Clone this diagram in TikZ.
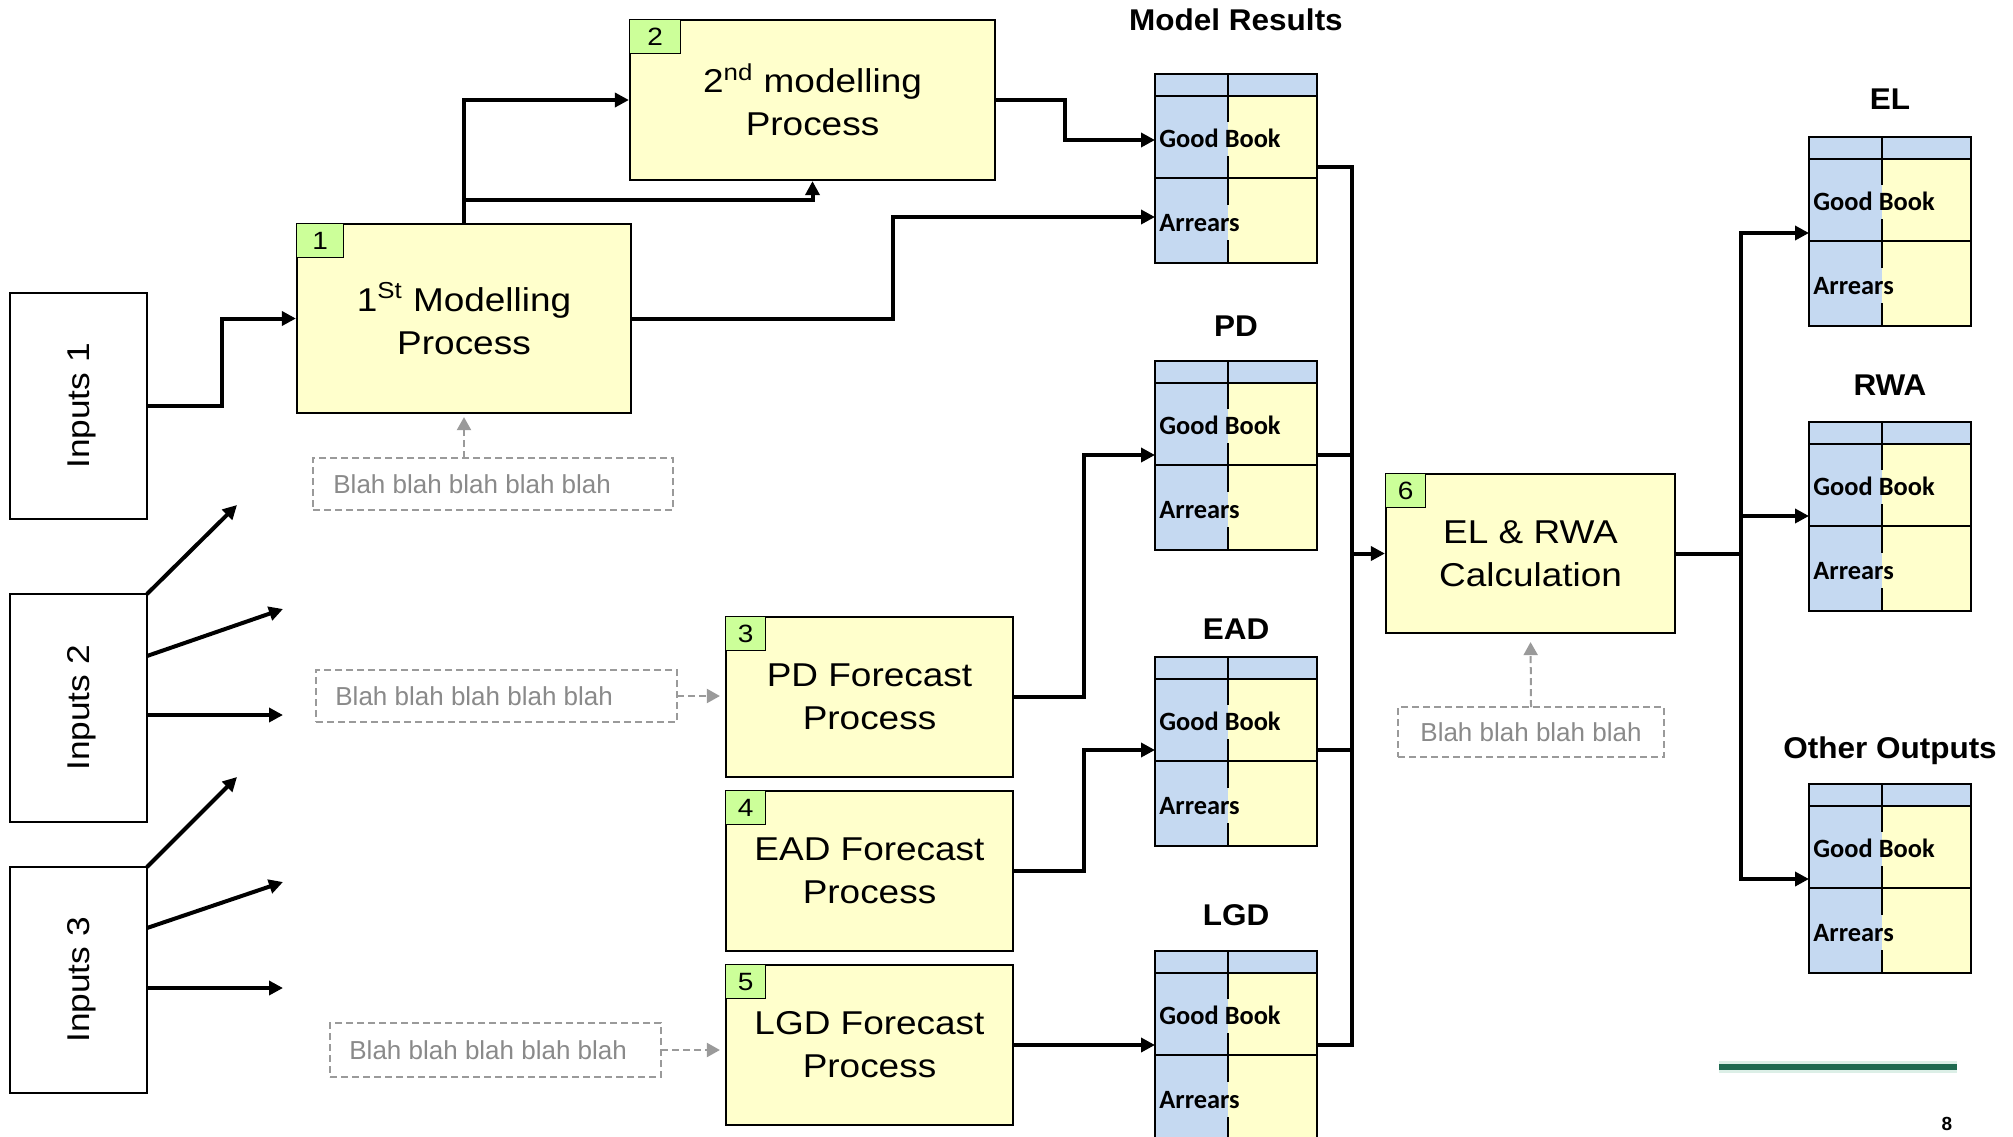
\documentclass[tikz,border=0pt]{standalone}
\usepackage{fontspec}
\setmainfont{Liberation Sans}
\newfontfamily\boxfont[FakeStretch=1.12]{Liberation Sans}
\newfontfamily\headfont[FakeStretch=1.05]{Liberation Sans}
\newfontfamily\cellfont{Carlito}
\usetikzlibrary{arrows.meta,calc}

% one unit = one pixel of a 2013 x 1136 canvas
\newcommand{\pxu}{0.5pt}

\definecolor{procfill}{HTML}{FFFFCC}
\definecolor{tagfill}{HTML}{CCFF99}
\definecolor{cellblue}{HTML}{C5D9F1}
\definecolor{cellyellow}{HTML}{FFFFCC}
\definecolor{notetext}{HTML}{8A8A8A}
\definecolor{noteline}{HTML}{9A9A9A}
\definecolor{rulegreen}{HTML}{1F6A50}
\definecolor{ruleglow}{HTML}{DCEFE7}

\tikzset{
  x=0.5pt, y=-0.5pt,
  sz/.style 2 args={minimum width=#1*\pxu, minimum height=#2*\pxu},
  proc/.style={draw=black, line width=1.1pt, fill=procfill, inner sep=0pt,
    align=center, font=\boxfont\fontsize{16.5}{21.5}\selectfont},
  tag/.style={draw=black, line width=0.7pt, fill=tagfill, inner sep=0pt,
    anchor=north west, font=\boxfont\fontsize{12.5}{14}\selectfont},
  inbox/.style={draw=black, line width=1pt, fill=white, inner sep=0pt, outer sep=0pt},
  intext/.style={rotate=90, inner sep=0pt, text height=11.3pt, text depth=0pt,
    font=\boxfont\fontsize{15.75}{18}\selectfont},
  notebox/.style={draw=noteline, line width=0.9pt, dash pattern=on 3.5pt off 2pt,
    inner sep=0pt, outer sep=0pt},
  notetext/.style={text=notetext, inner sep=0pt, anchor=west, text height=9.3pt,
    text depth=0pt, font=\fontsize{13}{15}\selectfont},
  conn/.style={draw=black, line width=2pt, -{Triangle[length=7pt,width=7pt]}},
  bus/.style={draw=black, line width=2pt},
  dconn/.style={draw=noteline, line width=1pt, dash pattern=on 3.5pt off 2pt,
    -{Triangle[length=6.5pt,width=7pt]}},
  cell/.style={inner sep=0pt, anchor=base west,
    font=\cellfont\bfseries\fontsize{13.2}{15}\selectfont},
  head/.style={inner sep=0pt, anchor=base,
    font=\headfont\bfseries\fontsize{15}{18}\selectfont},
  grid/.style={draw=black, line width=1.3pt},
}

% result table: #1 name, #2/#3 top left corner, #4 title, #5 title baseline
\newcommand{\restable}[5]{%
  \node[inner sep=0pt, outer sep=0pt, sz={162}{189}, anchor=north west] (#1) at (#2,#3) {};
  \fill[cellblue] (#1.north west) rectangle ++(162,22);
  \fill[cellblue] ($(#1.north west)+(0,22)$) rectangle ++(73,167);
  \fill[cellyellow] ($(#1.north west)+(73,22)$) rectangle ++(89,167);
  \node[cell] at ($(#1.north west)+(4,73)$) {Good Book};
  \node[cell] at ($(#1.north west)+(4,157)$) {Arrears};
  \draw[grid] (#1.north west) rectangle (#1.south east);
  \draw[grid] ($(#1.north west)+(0,22)$) -- ++(162,0);
  \draw[grid] ($(#1.north west)+(0,104)$) -- ++(162,0);
  \draw[grid] ($(#1.north west)+(73,0)$) -- ++(0,48) ++(0,34) -- ++(0,49)
    ++(0,35) -- ++(0,23);
  \node[head] at ({#2+81},#5) {#4};
}

\begin{document}
\begin{tikzpicture}
\useasboundingbox (0,0) rectangle (2013,1136);
\fill[white] (0,0) rectangle (2013,1136);
\clip (0,0) rectangle (2013,1136);

% input sources
\node[inbox, sz={137}{226}] (in1) at (78.5,406) {};
\node[intext] at (in1) {Inputs 1};
\node[inbox, sz={137}{228}] (in2) at (78.5,708) {};
\node[intext] at (in2) {Inputs 2};
\node[inbox, sz={137}{226}] (in3) at (78.5,980) {};
\node[intext] at (in3) {Inputs 3};

% process steps
\node[proc, sz={334}{189}] (b1) at (464,318.5) {1\textsuperscript{St} Modelling\\Process};
\node[tag, sz={47}{34}] (t1) at (b1.north west) {1};
\node[proc, sz={365}{160}] (b2) at (812.5,100) {2\textsuperscript{nd} modelling\\Process};
\node[tag, sz={51}{34}] (t2) at (b2.north west) {2};
\node[proc, sz={287}{160}] (b3) at (869.5,697) {PD Forecast\\Process};
\node[tag, sz={40}{34}] (t3) at (b3.north west) {3};
\node[proc, sz={287}{160}] (b4) at (869.5,871) {EAD Forecast\\Process};
\node[tag, sz={40}{34}] (t4) at (b4.north west) {4};
\node[proc, sz={287}{160}] (b5) at (869.5,1045) {LGD Forecast\\Process};
\node[tag, sz={40}{34}] (t5) at (b5.north west) {5};
\node[proc, sz={289}{159}] (b6) at (1530.5,553.5) {EL \& RWA\\Calculation};
\node[tag, sz={40}{34}] (t6) at (b6.north west) {6};

% annotations
\node[notebox, sz={360}{52}] (n1) at (493,484) {};
\node[notetext] at ($(n1.west)+(20,0)$) {Blah blah blah blah blah};
\node[notebox, sz={361}{52}] (n3) at (496.5,696) {};
\node[notetext] at ($(n3.west)+(19,0)$) {Blah blah blah blah blah};
\node[notebox, sz={331}{54}] (n5) at (495.5,1050) {};
\node[notetext] at ($(n5.west)+(19,0)$) {Blah blah blah blah blah};
\node[notebox, sz={266}{50}] (n6) at (1531,732) {};
\node[notetext] at ($(n6.west)+(22,0)$) {Blah blah blah blah};

% result tables
\restable{mr}{1155}{74}{Model Results}{30}
\restable{pd}{1155}{361}{PD}{336}
\restable{ead}{1155}{657}{EAD}{639}
\restable{lgd}{1155}{951}{LGD}{925}
\restable{el}{1809}{137}{EL}{109}
\restable{rwa}{1809}{422}{RWA}{395}
\restable{oo}{1809}{784}{Other Outputs}{758}

% table ports
\coordinate (mr-good) at ($(mr.north west)+(0,66)$);
\coordinate (mr-arr)  at ($(mr.north west)+(0,143)$);
\coordinate (mr-out)  at ($(mr.north east)+(0,93)$);
\coordinate (pd-in)   at ($(pd.north west)+(0,94)$);
\coordinate (pd-out)  at ($(pd.north east)+(0,94)$);
\coordinate (ead-in)  at ($(ead.north west)+(0,93)$);
\coordinate (ead-out) at ($(ead.north east)+(0,93)$);
\coordinate (lgd-in)  at ($(lgd.north west)+(0,94)$);
\coordinate (lgd-out) at ($(lgd.north east)+(0,94)$);
\coordinate (el-in)   at ($(el.north west)+(0,96)$);
\coordinate (rwa-in)  at ($(rwa.north west)+(0,94)$);
\coordinate (oo-in)   at ($(oo.north west)+(0,95)$);
\coordinate (busx) at (1352,0);
\coordinate (fanx) at (1741,0);
\coordinate (split) at ($(b1.north)+(0,-23)$);

% loose input arrows
\coordinate (i2a) at (237,505);
\coordinate (i2b) at (283,609);
\coordinate (i2c) at (283,715);
\coordinate (i3a) at (237,777);
\coordinate (i3b) at (283,882);
\coordinate (i3c) at (283,988);

% connectors
\draw[conn] (in1.east) -- ++(75,0) |- (b1.west);
\draw[conn] (in2.north east) -- (i2a);
\draw[conn] ($(in2.north east)+(0,62)$) -- (i2b);
\draw[conn] ($(in2.north east)+(0,121)$) -- (i2c);
\draw[conn] (in3.north east) -- (i3a);
\draw[conn] ($(in3.north east)+(0,61)$) -- (i3b);
\draw[conn] ($(in3.north east)+(0,121)$) -- (i3c);

\draw[conn] (b1.north) |- (b2.west);
\draw[conn] (split) -| (b2.south);
\draw[conn] (b1.east) -- ++(261,0) |- (mr-arr);
\draw[conn] (b2.east) -- ++(69,0) |- (mr-good);
\draw[conn] (b3.east) -- ++(70,0) |- (pd-in);
\draw[conn] (b4.east) -- ++(70,0) |- (ead-in);
\draw[conn] (b5.east) -- (lgd-in);

\draw[bus] (mr-out) -| (busx |- lgd-out) -- (lgd-out);
\draw[bus] (pd-out) -- (busx |- pd-out);
\draw[bus] (ead-out) -- (busx |- ead-out);
\draw[conn] (busx |- b6.west) -- (b6.west);

\draw[conn] (b6.east) -| (fanx |- el-in) -- (el-in);
\draw[conn] (b6.east) -| (fanx |- oo-in) -- (oo-in);
\draw[conn] (fanx |- rwa-in) -- (rwa-in);

\draw[dconn, shorten >=1.5pt] (b1.south |- n1.north) -- (b1.south);
\draw[dconn, shorten >=2.5pt] (n3.east) -- (b3.west |- n3.east);
\draw[dconn, shorten >=2.5pt] (n5.east) -- (b5.west |- n5.east);
\draw[dconn, shorten >=4pt] (n6.north) -- (b6.south);

% footer rule and page number
\draw[ruleglow, line width=6pt] (1719,1067) -- (1957,1067);
\draw[rulegreen, line width=3pt] (1719,1067) -- (1957,1067);
\node[inner sep=0pt, font=\bfseries\fontsize{9.5}{11}\selectfont] (pg) at (1947,1124) {8};
\end{tikzpicture}
\end{document}
